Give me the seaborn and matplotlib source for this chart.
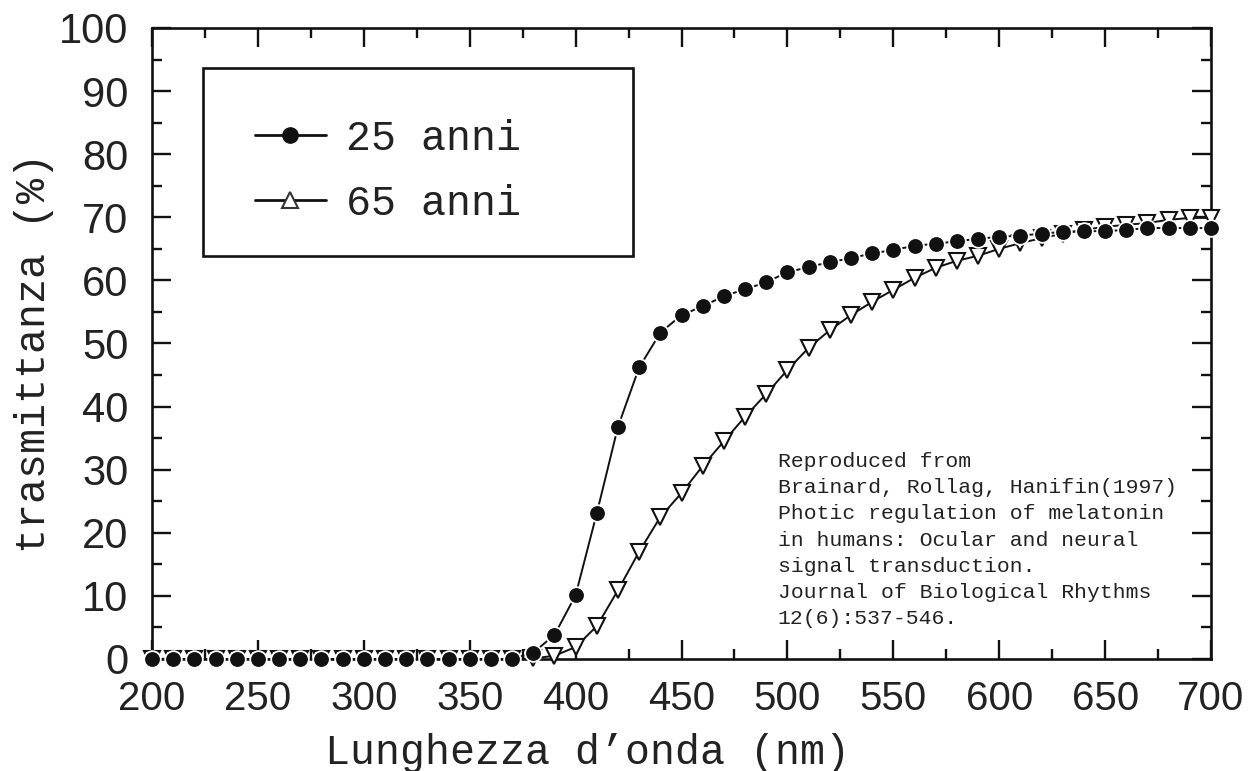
import matplotlib
matplotlib.use("Agg")
import matplotlib.pyplot as plt
import pandas as pd
import seaborn as sns
from matplotlib.lines import Line2D
from matplotlib.patches import Rectangle
from matplotlib.ticker import MultipleLocator

# --- data ---
wavelength = list(range(200, 710, 10))
t_25 = [0.0] * 18 + [
    1.0, 3.8, 10.1, 23.1, 36.8, 46.2, 51.7, 54.5, 55.9, 57.5,
    58.6, 59.7, 61.3, 62.1, 62.9, 63.5, 64.3, 64.8, 65.5, 65.8,
    66.2, 66.6, 66.9, 67.1, 67.4, 67.7, 67.8, 67.8, 68.0, 68.3,
    68.3, 68.3, 68.3]
t_65 = [0.0] * 18 + [
    0.1, 0.5, 1.9, 5.2, 10.9, 17.0, 22.5, 26.3, 30.6, 34.5,
    38.4, 42.0, 45.8, 49.3, 52.1, 54.5, 56.6, 58.5, 60.4, 62.0,
    63.1, 63.9, 65.0, 65.9, 66.7, 67.4, 68.0, 68.5, 68.8, 69.1,
    69.6, 69.9, 69.9]
legend_labels = ["25 anni", "65 anni"]
note = ("Reproduced from\n"
        "Brainard, Rollag, Hanifin(1997)\n"
        "Photic regulation of melatonin\n"
        "in humans: Ocular and neural\n"
        "signal transduction.\n"
        "Journal of Biological Rhythms\n"
        "12(6):537-546.")

df = pd.DataFrame({"wl": wavelength, "t25": t_25, "t65": t_65})

sns.set_theme(style="ticks")
plt.rcParams["font.family"] = ["Liberation Sans", "DejaVu Sans"]
mono = ["Liberation Mono", "DejaVu Sans Mono"]

fig = plt.figure(figsize=(12.49, 7.71), dpi=100)
ax = fig.add_axes([0.1217, 0.1453, 0.8479, 0.8184])

# 65 anni: open down-triangles
sns.lineplot(data=df, x="wl", y="t65", ax=ax, color="#111111", lw=1.4,
             marker="v", markersize=11.5, markerfacecolor="white",
             markeredgecolor="#111111", markeredgewidth=1.5,
             clip_on=False, zorder=3)
# 25 anni: filled circles with a small white halo
sns.lineplot(data=df, x="wl", y="t25", ax=ax, color="#111111", lw=1.4,
             marker="o", markersize=12, markerfacecolor="#111111",
             markeredgecolor="white", markeredgewidth=1.3,
             clip_on=False, zorder=4)

ax.set_xlim(200, 700)
ax.set_ylim(0, 100)
ax.xaxis.set_major_locator(MultipleLocator(50))
ax.xaxis.set_minor_locator(MultipleLocator(25))
ax.yaxis.set_major_locator(MultipleLocator(10))
ax.yaxis.set_minor_locator(MultipleLocator(5))
ax.tick_params(which="both", direction="in", top=True, right=True,
               width=1.7, color="#111111", labelcolor="#222222")
ax.tick_params(which="major", length=14)
ax.tick_params(which="minor", length=7)
ax.tick_params(axis="x", pad=15, labelsize=29)
ax.tick_params(axis="y", pad=17, labelsize=30)
for s in ax.spines.values():
    s.set_linewidth(1.9)
    s.set_color("#111111")

ax.set_xlabel("Lunghezza d\u2019onda (nm)", family=mono, fontsize=30,
              color="#222222")
ax.set_ylabel("trasmittanza (%)", family=mono, fontsize=30,
              color="#222222")
ax.xaxis.set_label_coords(0.411, -0.117)
ax.yaxis.set_label_coords(-0.093, 0.485)

# legend box and entries
ax.add_patch(Rectangle((0.048, 0.639), 0.406, 0.298, transform=ax.transAxes,
                       fill=False, lw=1.9, edgecolor="#111111", zorder=5))
handles = [
    Line2D([], [], color="#111111", lw=2, marker="o", markersize=11,
           markerfacecolor="#111111", markeredgecolor="#111111"),
    Line2D([], [], color="#111111", lw=2, marker="^", markersize=11,
           markerfacecolor="white", markeredgecolor="#333333",
           markeredgewidth=1.5),
]
ax.legend(handles, legend_labels, loc="upper left",
          bbox_to_anchor=(0.097, 0.856), frameon=False,
          prop={"family": mono, "size": 30}, handlelength=1.7,
          handletextpad=0.5, labelspacing=0.6, borderpad=0,
          borderaxespad=0, labelcolor="#222222")

ax.text(0.591, 0.328, note, transform=ax.transAxes, family=mono,
        fontsize=15.4, color="#222222", ha="left", va="top",
        linespacing=1.48)

fig.savefig("out.png", dpi=100)
